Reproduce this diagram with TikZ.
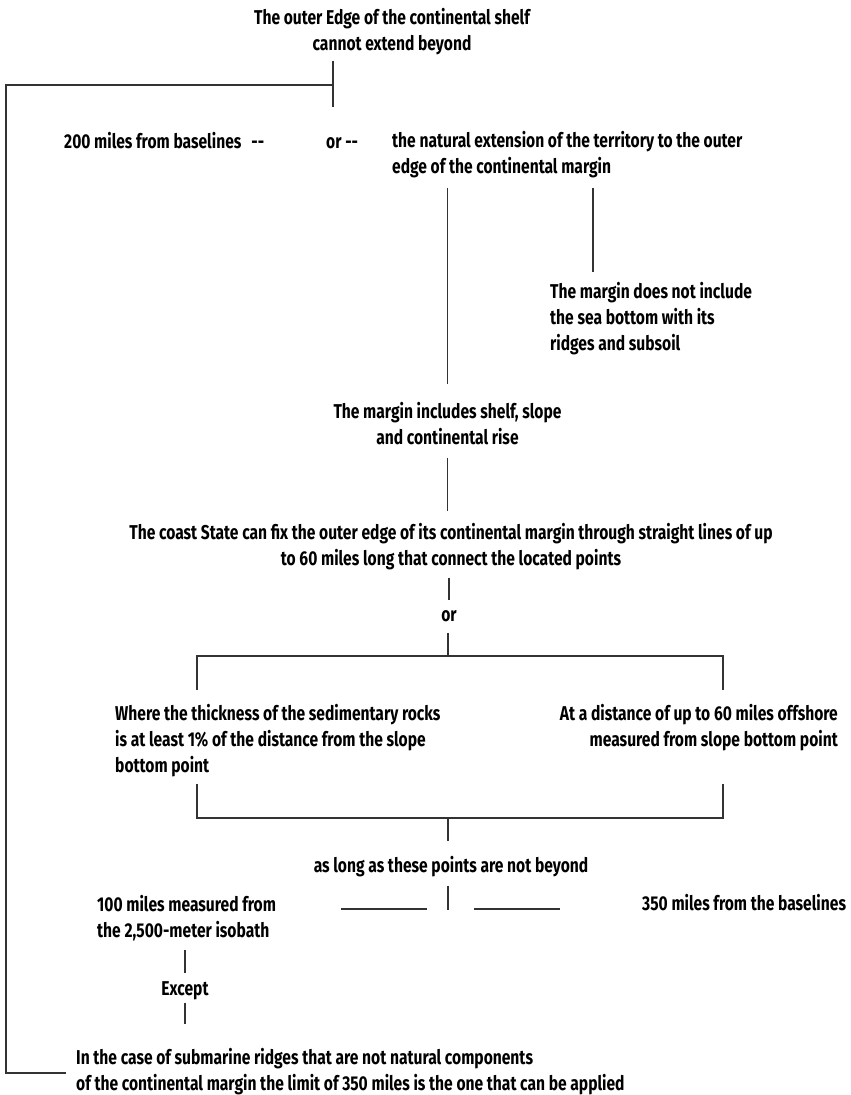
\documentclass[tikz,border=0pt]{standalone}
\usepackage{fontspec}
\setmainfont{Fira Sans}[FakeStretch=0.78]
\tikzset{
	txtnode/.style = {inner sep=0pt, font=\fontsize{20}{26}\selectfont\bfseries},
	midtxt/.style = {txtnode, align=center, anchor=base},
	lefttxt/.style = {txtnode, align=left, anchor=base west},
	righttxt/.style = {txtnode, align=right, anchor=base east},
	link/.style = {draw=black!80, line width=1.3pt}
}

\begin{document}
\begin{tikzpicture}[x=1pt, y=-1pt]
		\useasboundingbox (0,0) rectangle (851,1095);
		% texts (placed at the baseline of their last line)
		\node [midtxt] (outer) at (392,50) {The outer Edge of the continental shelf\\cannot extend beyond};
		\node [lefttxt] (twohundred) at (64,148) {200 miles from baselines\hspace{10pt}{-}{-}};
		\node [lefttxt] (orfirst) at (326,148) {or {-}{-}};
		\node [lefttxt] (natural) at (392,173) {the natural extension of the territory to the outer\\edge of the continental margin};
		\node [lefttxt] (notincl) at (550,350) {The margin does not include\\the sea bottom with its\\ridges and subsoil};
		\node [midtxt] (incl) at (447.5,444) {The margin includes shelf, slope\\and continental rise};
		\node [midtxt] (coast) at (451,565) {The coast State can fix the outer edge of its continental margin through straight lines of up\\to 60 miles long that connect the located points};
		\node [midtxt] (orsecond) at (449,621) {or};
		\node [lefttxt] (thick) at (115,772) {Where the thickness of the sedimentary rocks\\is at least 1\% of the distance from the slope\\bottom point};
		\node [righttxt] (dist) at (838,746) {At a distance of up to 60 miles offshore\\measured from slope bottom point};
		\node [midtxt] (aslong) at (451,872) {as long as these points are not beyond};
		\node [lefttxt] (hundred) at (97,937) {100 miles measured from\\the 2,500-meter isobath};
		\node [lefttxt] (threefifty) at (642,910) {350 miles from the baselines};
		\node [midtxt] (except) at (185,995) {Except};
		\node [lefttxt] (ridges) at (76,1090) {In the case of submarine ridges that are not natural components\\of the continental margin the limit of 350 miles is the one that can be applied};
		% junctions
		\coordinate (jtop) at (333,85);
		\coordinate (jtopend) at (333,107);
		\coordinate (lefttop) at (6,85);
		\coordinate (leftbot) at (6,1073);
		\coordinate (notinclend) at (593,272);
		\coordinate (orleft) at (197,656);
		\coordinate (orright) at (723,656);
		\coordinate (orjoin) at (448,656);
		\coordinate (backleft) at (197,818);
		\coordinate (backright) at (723,818);
		\coordinate (backjoin) at (448,818);
		\coordinate (aslongend) at (448,910);
		\coordinate (dashA) at (341,909);
		\coordinate (dashB) at (427,909);
		\coordinate (dashC) at (474,909);
		\coordinate (dashD) at (560,909);
		% connectors
		\draw [link, shorten <=6pt] (outer.south -| jtop) -- (jtopend);
		\draw [link, shorten >=10pt] (jtop) -- (lefttop) -- (leftbot) -- (leftbot -| ridges.west);
		\draw [link, shorten <=10pt, shorten >=18pt] (natural.south -| incl.north) -- (incl.north);
		\draw [link, shorten <=10pt] (natural.south -| notinclend) -- (notinclend);
		\draw [link, shorten <=13pt, shorten >=12pt] (incl.south) -- (incl.south |- coast.north);
		\draw [link, shorten <=8pt, shorten >=10pt] (coast.south -| orsecond.north) -- (orsecond.north);
		\draw [link, shorten <=11pt] (orsecond.south -| orjoin) -- (orjoin);
		\draw [link, shorten <=14pt, shorten >=14pt] (orleft |- thick.north) -- (orleft) -- (orright) -- (orright |- dist.north);
		\draw [link, shorten <=7pt, shorten >=7pt] (backleft |- thick.south) -- (backleft) -- (backright) -- (backright |- thick.south);
		\draw [link, shorten >=15pt] (backjoin) -- (backjoin |- aslong.north);
		\draw [link, shorten <=9pt] (aslong.south -| aslongend) -- (aslongend);
		\draw [link] (dashA) -- (dashB);
		\draw [link] (dashC) -- (dashD);
		\draw [link, shorten <=9pt, shorten >=8pt] (hundred.south -| except.north) -- (except.north);
		\draw [link, shorten <=3pt, shorten >=24pt] (except.south) -- (except.south |- ridges.north);
\end{tikzpicture}
\end{document}
